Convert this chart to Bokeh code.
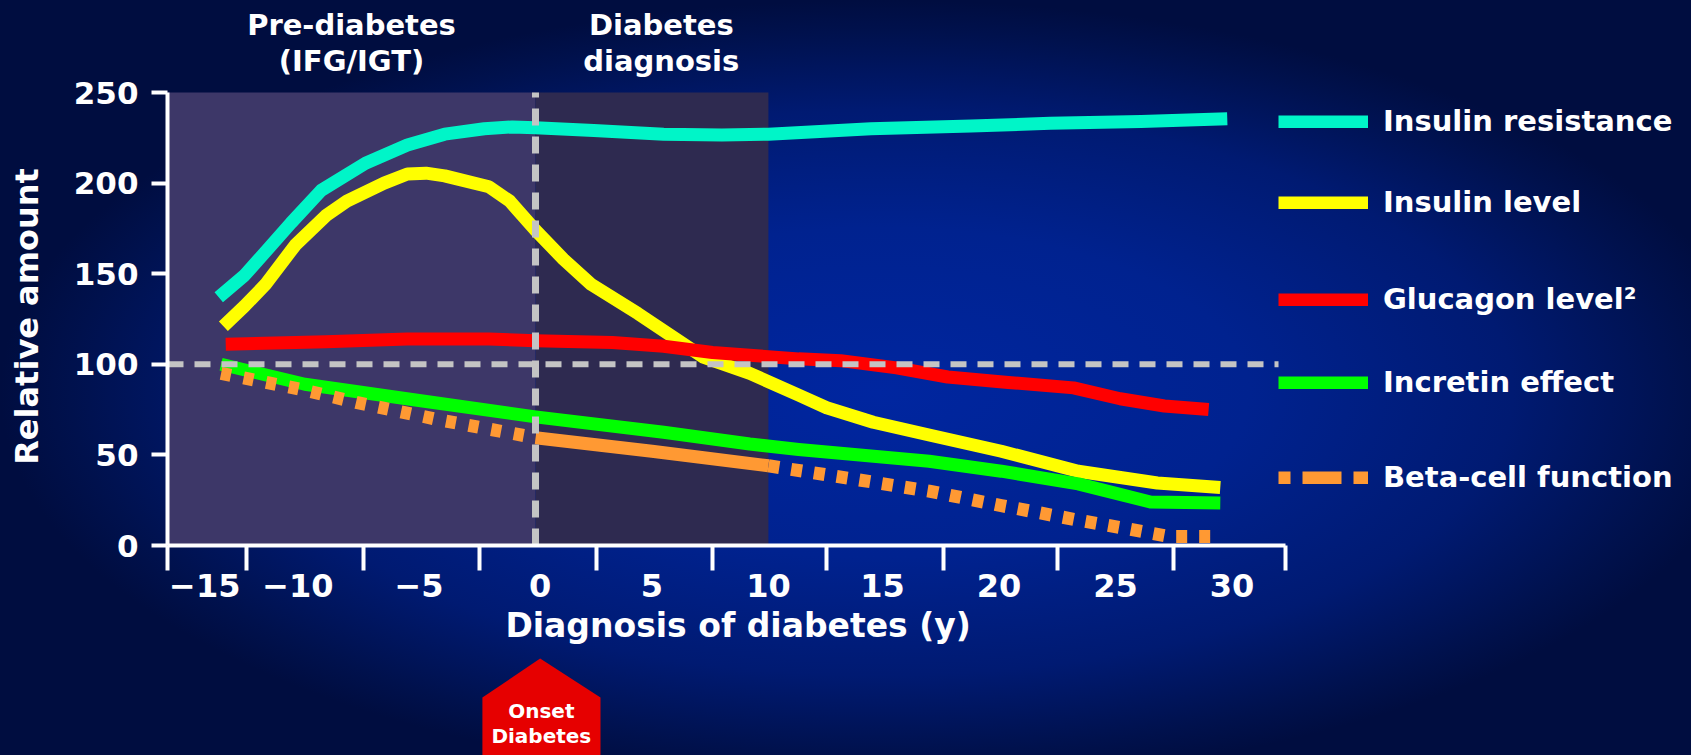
import math
from bokeh.plotting import figure
from bokeh.models import (Range1d, FixedTicker, Label, PolyAnnotation,
                          Legend, LegendItem)
from bokeh.embed import file_html
from bokeh.resources import INLINE

FONT = "DejaVu Sans"

# Years relative to diagnosis and relative amounts (100 = normal)
ir_x = [-13.6, -12.5, -11.6, -10.5, -9.2, -7.3, -5.5, -3.9, -2.2, -1.0, 0, 2.5, 5.5, 8.0, 10.0, 14.4, 18.7, 22.1, 26.0, 29.7]
ir_y = [137, 149, 162, 178, 196, 211, 221, 227, 230, 231, 230.5, 229, 227, 226.5, 227, 230, 231.5, 233, 234, 235.5]

il_x = [-13.4, -12.5, -11.6, -10.3, -9.0, -8.1, -6.5, -5.5, -4.7, -3.9, -2.0, -1.1, 0, 1.2, 2.4, 4.4, 7.2, 9.2, 11.3, 12.5, 14.5, 16.9, 20.0, 23.3, 26.7, 29.4]
il_y = [121, 132, 144, 166, 182, 190, 200, 205, 205.5, 204, 198, 190, 174, 158, 144, 128, 104, 95, 83, 76, 68, 61, 52, 41, 34.5, 32]

gl_x = [-13.3, -9.0, -5.5, -2.0, 0, 3.3, 5.5, 7.6, 9.2, 11.3, 13.1, 15.5, 17.7, 20.3, 23.1, 25.1, 27.0, 28.9]
gl_y = [111, 112.5, 114, 114, 113, 112, 110, 106.5, 105, 103, 102, 98, 93, 90, 87, 81, 77, 75]

ic_x = [-13.5, -9.9, -5.0, 0, 5.5, 9.2, 11.3, 16.9, 20.0, 23.3, 26.4, 29.4]
ic_y = [100, 89, 80, 71, 62.5, 56, 53, 46.5, 41, 34, 24, 23.5]

bc_x = [-13.5, -10.0, -7.7, -4.0, 0, 5.0, 10.0, 13.5, 16.9, 20.0, 23.3, 25.5, 27.2, 29.4]
bc_y = [95, 86, 79, 69, 59.5, 52, 44, 37, 30, 22, 14, 9, 5, 5]

# Disease phases shaded behind the curves
phase_start = [-15.8, 0]
phase_end = [0, 10]
phase_colors = ["#3d3768", "#2e2a50"]
diagnosis_year = 0
normal_level = 100

# Axis extents and ticks
x_min, x_max = -15.8, 32.2
y_min, y_max = 0, 250
xt_pos = [-14.2, -10.2, -5.0, 0.2, 5.0, 10.0, 14.9, 19.9, 24.9, 29.9]
xt_labels = ["\u221215", "\u221210", "\u22125", "0", "5", "10", "15", "20", "25", "30"]
x_marks = [-15.8, -12.4, -7.4, -2.4, 2.6, 7.6, 12.5, 17.5, 22.4, 27.4, 32.2]
yt_pos = [0, 50, 100, 150, 200, 250]

# Canvas layout: the axes box sits inside a full-canvas frame so that the
# headings, key and onset marker around it can be drawn as well.
W, H = 1691, 755
BOX_L, BOX_R, BOX_T, BOX_B = 167, 1285, 92, 545
kx = (x_max - x_min) / (BOX_R - BOX_L)
ky = (y_max - y_min) / (BOX_B - BOX_T)
x_range = Range1d(x_min - BOX_L * kx, x_max + (W - BOX_R) * kx)
y_range = Range1d(y_min - (H - BOX_B) * ky, y_max + BOX_T * ky)

p = figure(width=W, height=H, output_backend="svg", toolbar_location=None,
           x_range=x_range, y_range=y_range)
p.min_border_left = p.min_border_right = 0
p.min_border_top = p.min_border_bottom = 0
p.background_fill_alpha = 0
p.border_fill_alpha = 0
p.outline_line_color = None
p.grid.visible = False
p.styles = {"background": "radial-gradient(ellipse farthest-side at 52% 52%, "
                          "#0026a0 0%, #00228f 42%, #001a72 72%, #00114d 92%, #000d40 100%)"}

# phases
p.quad(left=phase_start, right=phase_end, bottom=y_min, top=y_max,
       fill_color=phase_colors, line_color=None)

LW = 13
r_ir = p.line(ir_x, ir_y, line_width=LW, line_color="#00f5c8", line_join="round")
r_il = p.line(il_x, il_y, line_width=LW, line_color="#ffff00", line_join="round")
r_gl = p.line(gl_x, gl_y, line_width=LW, line_color="#ff0000", line_join="round")
r_ic = p.line(ic_x, ic_y, line_width=LW, line_color="#00ff00", line_join="round")

# beta-cell function: dotted outside the diagnosis window, solid inside it
d0, d1 = phase_end[0], phase_end[1]
pre = [(x, y) for x, y in zip(bc_x, bc_y) if x <= d0]
mid = [(x, y) for x, y in zip(bc_x, bc_y) if d0 <= x <= d1]
post = [(x, y) for x, y in zip(bc_x, bc_y) if x >= d1]
ORANGE = "#ff9933"
for seg, dash in ((pre, "10 13"), (post, "11 12")):
    p.line([s[0] for s in seg], [s[1] for s in seg], line_width=LW,
           line_color=ORANGE, line_dash=dash, line_join="round")
p.line([s[0] for s in mid], [s[1] for s in mid], line_width=LW, line_color=ORANGE)
# key swatch style for beta-cell function (no points of its own)
nan = float("nan")
r_bc_key = p.line(x=[nan, nan], y=[nan, nan], line_width=LW, line_color=ORANGE,
                  line_dash="39 12", line_dash_offset=27)

# reference lines: normal level and the time of diagnosis
p.segment(x0=[x_min], y0=[normal_level], x1=[31.9], y1=[normal_level],
          line_color="#c4c4c4", line_width=6, line_dash="16 11")
p.segment(x0=[diagnosis_year], y0=[y_min], x1=[diagnosis_year], y1=[y_max],
          line_color="#c4c4c4", line_width=7, line_dash="17 11")

# axes, pinned to the corner of the axes box
xa = p.xaxis[0]
xa.fixed_location = y_min
xa.bounds = (x_min, x_max)
xa.ticker = FixedTicker(ticks=xt_pos, minor_ticks=x_marks)
xa.major_label_overrides = dict(zip(xt_pos, xt_labels))
xa.major_tick_out = 0
xa.major_tick_in = 0
xa.major_tick_line_color = None
xa.minor_tick_out = 25
xa.minor_tick_in = 0
xa.minor_tick_line_width = 4
xa.minor_tick_line_color = "white"
xa.major_label_standoff = 3
xa.major_label_text_font_size = "32px"

ya = p.yaxis[0]
ya.fixed_location = x_min
ya.bounds = (y_min, y_max)
ya.ticker = FixedTicker(ticks=yt_pos, minor_ticks=[])
ya.major_tick_out = 16
ya.major_tick_in = 0
ya.major_tick_line_width = 4
ya.major_tick_line_color = "white"
ya.major_label_standoff = 13
ya.major_label_text_font_size = "31px"

for ax in (xa, ya):
    ax.axis_line_color = "white"
    ax.axis_line_width = 4
    ax.major_label_text_color = "white"
    ax.major_label_text_font = FONT
    ax.major_label_text_font_style = "bold"


def text(x, y, t, size, angle=0.0):
    p.add_layout(Label(x=x, y=y, text=t, angle=angle, text_align="center",
                       text_baseline="alphabetic", text_color="white",
                       text_font=FONT, text_font_style="bold",
                       text_font_size=size))


# axis titles
text(8.7, -44.2, "Diagnosis of diabetes (y)", "33px")
text(-21.85, 126.4, "Relative amount", "32px", angle=math.pi / 2)

# phase headings
for x, lines in ((-7.9, ["Pre-diabetes", "(IFG/IGT)"]), (5.4, ["Diabetes", "diagnosis"])):
    for y, t in zip((287, 267.5), lines):
        text(x, y, t, "29px")

# onset marker below the axis
p.add_layout(PolyAnnotation(xs=[0.2, 2.79, 2.79, -2.28, -2.28],
                            ys=[-62.4, -83.9, -135, -135, -83.9],
                            fill_color="#e60000", fill_alpha=1, line_color=None))
text(0.25, -91.1, "Onset", "20px")
text(0.25, -104.9, "Diabetes", "20px")

# key, one entry per block
key = [("Insulin resistance", r_ir, 121), ("Insulin level", r_il, 202),
       ("Glucagon level\u00b2", r_gl, 299), ("Incretin effect", r_ic, 382),
       ("Beta-cell function", r_bc_key, 477)]
for label, r, cy in key:
    leg = Legend(items=[LegendItem(label=label, renderers=[r])],
                 location=(1278, H - cy - 17), orientation="vertical",
                 background_fill_alpha=0, border_line_color=None,
                 padding=0, margin=0, spacing=0,
                 glyph_width=90, glyph_height=13, label_standoff=15,
                 label_text_font=FONT, label_text_font_style="bold",
                 label_text_font_size="29px", label_text_color="white")
    p.add_layout(leg)

open("out.html", "w").write(file_html(p, INLINE))
